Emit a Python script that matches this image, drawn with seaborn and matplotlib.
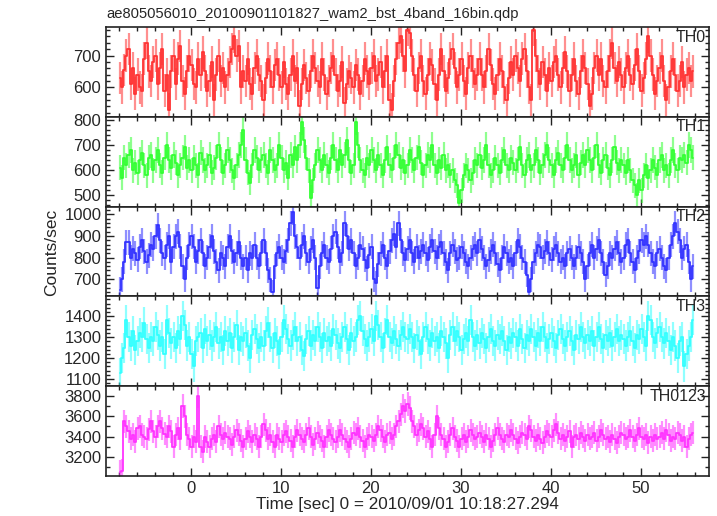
import numpy as np
import pandas as pd
import seaborn as sns
from matplotlib import pyplot as plt
from matplotlib.ticker import MultipleLocator

# light curve, 0.25 s bins starting at t = -7.9 s
t_start = -7.9
bin_size = 0.25

th0 = [630, 600, 655, 700, 720, 610, 660, 580, 640, 600, 590, 690, 740, 650, 620, 680,
       700, 610, 660, 720, 590, 640, 530, 650, 700, 610, 690, 730, 620, 580, 650, 700,
       670, 610, 600, 690, 640, 710, 650, 590, 620, 680, 560, 640, 700, 620, 660, 600,
       640, 680, 720, 760, 700, 730, 600, 650, 620, 690, 610, 580, 660, 700, 640, 620,
       560, 630, 690, 650, 600, 670, 690, 640, 600, 680, 610, 580, 640, 700, 620, 660,
       540, 610, 670, 630, 590, 650, 700, 660, 620, 600, 690, 640, 580, 620, 660, 700,
       640, 590, 620, 680, 550, 610, 650, 630, 600, 670, 640, 580, 620, 690, 650, 610,
       660, 700, 620, 640, 680, 600, 650, 700, 560, 530, 620, 690, 740, 760, 700, 650,
       780, 770, 700, 640, 590, 660, 700, 620, 580, 640, 690, 670, 610, 560, 640, 720,
       650, 590, 630, 690, 720, 660, 600, 640, 690, 620, 580, 660, 700, 650, 610, 640,
       690, 640, 600, 650, 720, 670, 610, 580, 640, 690, 650, 600, 560, 630, 680, 640,
       700, 660, 620, 690, 720, 650, 600, 560, 780, 700, 650, 610, 680, 640, 590, 660,
       620, 680, 700, 640, 600, 660, 710, 650, 590, 640, 690, 620, 580, 650, 700, 660,
       610, 540, 580, 660, 700, 640, 690, 620, 600, 650, 700, 740, 660, 620, 680, 640,
       600, 660, 700, 640, 610, 670, 720, 650, 590, 630, 690, 760, 700, 640, 580, 620,
       660, 700, 620, 560, 600, 650, 690, 640, 590, 620, 680, 600, 640, 660, 620, 650]

th1 = [610, 570, 650, 620, 660, 680, 600, 630, 590, 640, 670, 620, 580, 650, 660, 600,
       640, 680, 620, 590, 650, 700, 640, 610, 660, 630, 580, 620, 650, 690, 610, 640,
       600, 650, 620, 580, 670, 640, 600, 620, 660, 590, 610, 650, 700, 640, 590, 620,
       680, 640, 600, 570, 620, 660, 700, 760, 640, 590, 550, 620, 680, 650, 600, 640,
       660, 620, 590, 680, 640, 600, 620, 700, 650, 600, 630, 570, 660, 620, 690, 640,
       700, 790, 720, 650, 600, 490, 560, 620, 680, 640, 600, 660, 620, 590, 650, 700,
       640, 600, 680, 620, 660, 720, 640, 590, 620, 790, 700, 640, 600, 580, 650, 620,
       680, 640, 600, 660, 620, 580, 640, 690, 620, 600, 650, 700, 660, 610, 640, 590,
       620, 680, 640, 600, 650, 690, 630, 580, 620, 660, 640, 700, 620, 590, 640, 610,
       660, 600, 620, 580, 600, 560, 540, 470, 520, 580, 620, 600, 560, 590, 640, 620,
       660, 610, 640, 700, 620, 580, 600, 650, 620, 590, 640, 680, 620, 600, 650, 630,
       600, 640, 690, 620, 580, 640, 660, 600, 620, 680, 640, 590, 620, 660, 700, 640,
       620, 580, 640, 670, 620, 600, 650, 700, 640, 600, 620, 660, 580, 630, 660, 620,
       680, 640, 600, 650, 700, 620, 590, 640, 660, 610, 580, 640, 690, 630, 600, 640,
       620, 590, 640, 600, 560, 540, 500, 560, 520, 580, 620, 570, 600, 640, 610, 580,
       640, 660, 600, 620, 580, 640, 680, 620, 600, 650, 640, 660, 630, 700, 680, 650]

th2 = [650, 700, 780, 870, 870, 800, 840, 820, 790, 850, 880, 830, 780, 810, 860, 840,
       900, 950, 880, 820, 800, 860, 900, 780, 850, 900, 920, 850, 760, 700, 800, 860,
       900, 850, 780, 830, 880, 820, 760, 800, 850, 900, 830, 780, 740, 820, 800, 760,
       850, 900, 830, 780, 820, 870, 800, 760, 800, 740, 820, 800, 860, 800, 760, 820,
       880, 820, 740, 700, 640, 760, 820, 850, 800, 780, 830, 880, 960, 1010, 900, 850,
       800, 860, 900, 820, 780, 840, 880, 800, 660, 760, 820, 860, 800, 780, 840, 900,
       920, 850, 780, 820, 960, 900, 840, 880, 820, 760, 800, 860, 840, 790, 750, 810,
       850, 700, 680, 770, 820, 860, 800, 760, 830, 880, 910, 850, 960, 880, 820, 790,
       840, 880, 820, 780, 850, 800, 830, 860, 820, 790, 850, 880, 830, 800, 850, 870,
       820, 780, 740, 820, 860, 830, 790, 800, 850, 820, 780, 760, 800, 840, 860, 820,
       880, 840, 800, 760, 790, 830, 860, 820, 770, 740, 800, 850, 820, 780, 800, 760,
       820, 880, 850, 800, 780, 720, 640, 700, 780, 820, 860, 850, 800, 830, 870, 820,
       790, 840, 860, 820, 780, 800, 760, 820, 840, 800, 760, 800, 850, 820, 780, 700,
       760, 820, 860, 800, 840, 880, 820, 780, 720, 760, 820, 800, 840, 870, 820, 780,
       800, 860, 880, 820, 780, 740, 800, 830, 880, 860, 900, 860, 820, 780, 760, 820,
       840, 800, 760, 740, 800, 860, 900, 960, 920, 880, 800, 840, 860, 780, 700, 760]

th3 = [1130, 1200, 1250, 1380, 1300, 1260, 1330, 1240, 1280, 1320, 1300, 1370, 1290, 1250, 1300, 1280,
       1350, 1310, 1260, 1300, 1220, 1380, 1320, 1270, 1300, 1250, 1330, 1290, 1400, 1360, 1260, 1300,
       1220, 1160, 1280, 1300, 1320, 1250, 1340, 1280, 1310, 1260, 1300, 1350, 1270, 1300, 1240, 1330,
       1280, 1320, 1250, 1300, 1360, 1240, 1300, 1280, 1320, 1260, 1200, 1310, 1340, 1290, 1250, 1300,
       1260, 1330, 1370, 1300, 1250, 1320, 1280, 1220, 1300, 1380, 1340, 1290, 1260, 1310, 1350, 1280,
       1300, 1240, 1210, 1290, 1330, 1260, 1310, 1280, 1350, 1300, 1250, 1320, 1280, 1300, 1260, 1340,
       1310, 1270, 1250, 1300, 1350, 1290, 1240, 1320, 1280, 1300, 1380, 1400, 1330, 1290, 1260, 1300,
       1340, 1280, 1400, 1360, 1300, 1250, 1320, 1380, 1300, 1270, 1330, 1290, 1260, 1310, 1350, 1300,
       1290, 1340, 1300, 1250, 1310, 1280, 1220, 1300, 1350, 1290, 1260, 1320, 1280, 1300, 1250, 1330,
       1300, 1270, 1200, 1310, 1350, 1280, 1330, 1300, 1240, 1290, 1320, 1280, 1380, 1300, 1260, 1310,
       1270, 1320, 1290, 1250, 1300, 1340, 1280, 1260, 1310, 1290, 1330, 1280, 1240, 1300, 1270, 1320,
       1300, 1260, 1340, 1290, 1250, 1310, 1280, 1340, 1300, 1260, 1320, 1280, 1350, 1300, 1250, 1290,
       1320, 1280, 1250, 1310, 1340, 1290, 1260, 1300, 1330, 1280, 1240, 1310, 1290, 1350, 1300, 1270,
       1310, 1280, 1330, 1260, 1300, 1350, 1290, 1250, 1310, 1280, 1320, 1260, 1300, 1340, 1280, 1310,
       1290, 1260, 1300, 1330, 1280, 1250, 1310, 1290, 1340, 1300, 1260, 1400, 1380, 1300, 1270, 1320,
       1350, 1300, 1270, 1320, 1280, 1240, 1300, 1260, 1200, 1280, 1300, 1160, 1220, 1260, 1300, 1380]

th0123 = [3050, 3060, 3550, 3500, 3450, 3380, 3420, 3350, 3480, 3500, 3420, 3400, 3380, 3470, 3550, 3450,
          3400, 3500, 3550, 3480, 3430, 3400, 3500, 3450, 3300, 3420, 3480, 3380, 3700, 3600, 3420, 3380,
          3300, 3400, 3350, 3800, 3300, 3250, 3400, 3350, 3300, 3380, 3420, 3350, 3500, 3420, 3380, 3440,
          3400, 3380, 3320, 3400, 3460, 3420, 3360, 3300, 3380, 3450, 3400, 3350, 3420, 3380, 3300, 3400,
          3520, 3460, 3380, 3420, 3350, 3300, 3420, 3380, 3350, 3420, 3450, 3400, 3360, 3300, 3400, 3460,
          3420, 3380, 3350, 3420, 3480, 3400, 3320, 3380, 3440, 3400, 3360, 3300, 3400, 3460, 3420, 3380,
          3350, 3400, 3460, 3420, 3380, 3350, 3300, 3380, 3440, 3420, 3480, 3400, 3360, 3300, 3380, 3420,
          3400, 3360, 3420, 3500, 3460, 3400, 3350, 3420, 3440, 3380, 3420, 3500, 3550, 3620, 3700, 3650,
          3720, 3680, 3550, 3500, 3420, 3460, 3520, 3480, 3400, 3450, 3380, 3300, 3420, 3600, 3480, 3420,
          3380, 3300, 3350, 3420, 3480, 3400, 3360, 3300, 3380, 3420, 3350, 3400, 3460, 3420, 3380, 3400,
          3440, 3400, 3350, 3420, 3380, 3300, 3360, 3420, 3480, 3420, 3380, 3350, 3420, 3400, 3460, 3420,
          3380, 3340, 3400, 3440, 3420, 3380, 3500, 3460, 3400, 3360, 3420, 3380, 3340, 3400, 3450, 3420,
          3400, 3460, 3520, 3440, 3380, 3420, 3360, 3400, 3450, 3300, 3400, 3420, 3380, 3440, 3400, 3360,
          3420, 3380, 3400, 3440, 3360, 3400, 3460, 3420, 3380, 3400, 3350, 3420, 3380, 3340, 3400, 3440,
          3420, 3380, 3400, 3460, 3400, 3360, 3420, 3480, 3400, 3380, 3420, 3340, 3400, 3360, 3420, 3380,
          3400, 3440, 3380, 3460, 3420, 3360, 3400, 3380, 3440, 3420, 3360, 3400, 3300, 3380, 3420, 3440]

bands = ["TH0", "TH1", "TH2", "TH3", "TH0123"]
series = [th0, th1, th2, th3, th0123]
# typical 1-sigma error per band (counts/sec)
errors = [51, 50, 58, 72, 117]
colors = ["#ff3333", "#33ff33", "#3333ff", "#33ffff", "#ff33ff"]
ylims = [(508, 790), (456, 812), (620, 1037), (1066, 1495), (3009, 3899)]
major_steps = [100, 100, 100, 100, 200]
minor_steps = [20, 20, 20, 20, 100]

sns.set_style("ticks")
plt.rcParams['font.family'] = ['Liberation Sans', 'DejaVu Sans']

fig, axes = plt.subplots(5, 1, figsize=(7.17, 5.16), dpi=100, sharex=True)
fig.subplots_adjust(left=0.148, right=0.989, top=0.948, bottom=0.0775, hspace=0)

for ax, name, vals, err, col, ylim, mj, mn in zip(axes, bands, series, errors, colors,
                                                   ylims, major_steps, minor_steps):
    df = pd.DataFrame({"time": t_start + bin_size * np.arange(len(vals)), "rate": vals})
    ax.vlines(df["time"], df["rate"] - err, df["rate"] + err, color=col, alpha=0.55, lw=1.6)
    sns.lineplot(data=df, x="time", y="rate", ax=ax, color=col, lw=1.3,
                 drawstyle="steps-mid", legend=False)
    ax.set_ylim(*ylim)
    ax.set_xlim(-9.4, 57.6)
    ax.set_ylabel("")
    ax.set_xlabel("")
    ax.yaxis.set_major_locator(MultipleLocator(mj))
    ax.yaxis.set_minor_locator(MultipleLocator(mn))
    ax.xaxis.set_major_locator(MultipleLocator(10))
    ax.xaxis.set_minor_locator(MultipleLocator(2))
    ax.tick_params(which="both", direction="in", top=True, right=True, labelsize=12,
                   width=1, color="#222222")
    ax.tick_params(which="major", length=6)
    ax.tick_params(which="minor", length=3)
    for s in ax.spines.values():
        s.set_linewidth(1.2)
        s.set_color("#222222")
    ax.text(0.995, 0.97, name, transform=ax.transAxes, ha="right", va="top", fontsize=11.5)

axes[-1].set_xlabel("Time [sec] 0 = 2010/09/01 10:18:27.294", fontsize=12.3, labelpad=1)
fig.text(0.072, 0.51, "Counts/sec", rotation=90, ha="center", va="center", fontsize=12.5)
fig.text(0.149, 0.973, "ae805056010_20100901101827_wam2_bst_4band_16bin.qdp",
         ha="left", va="center", fontsize=10.6)

plt.savefig("out.png", dpi=100)
